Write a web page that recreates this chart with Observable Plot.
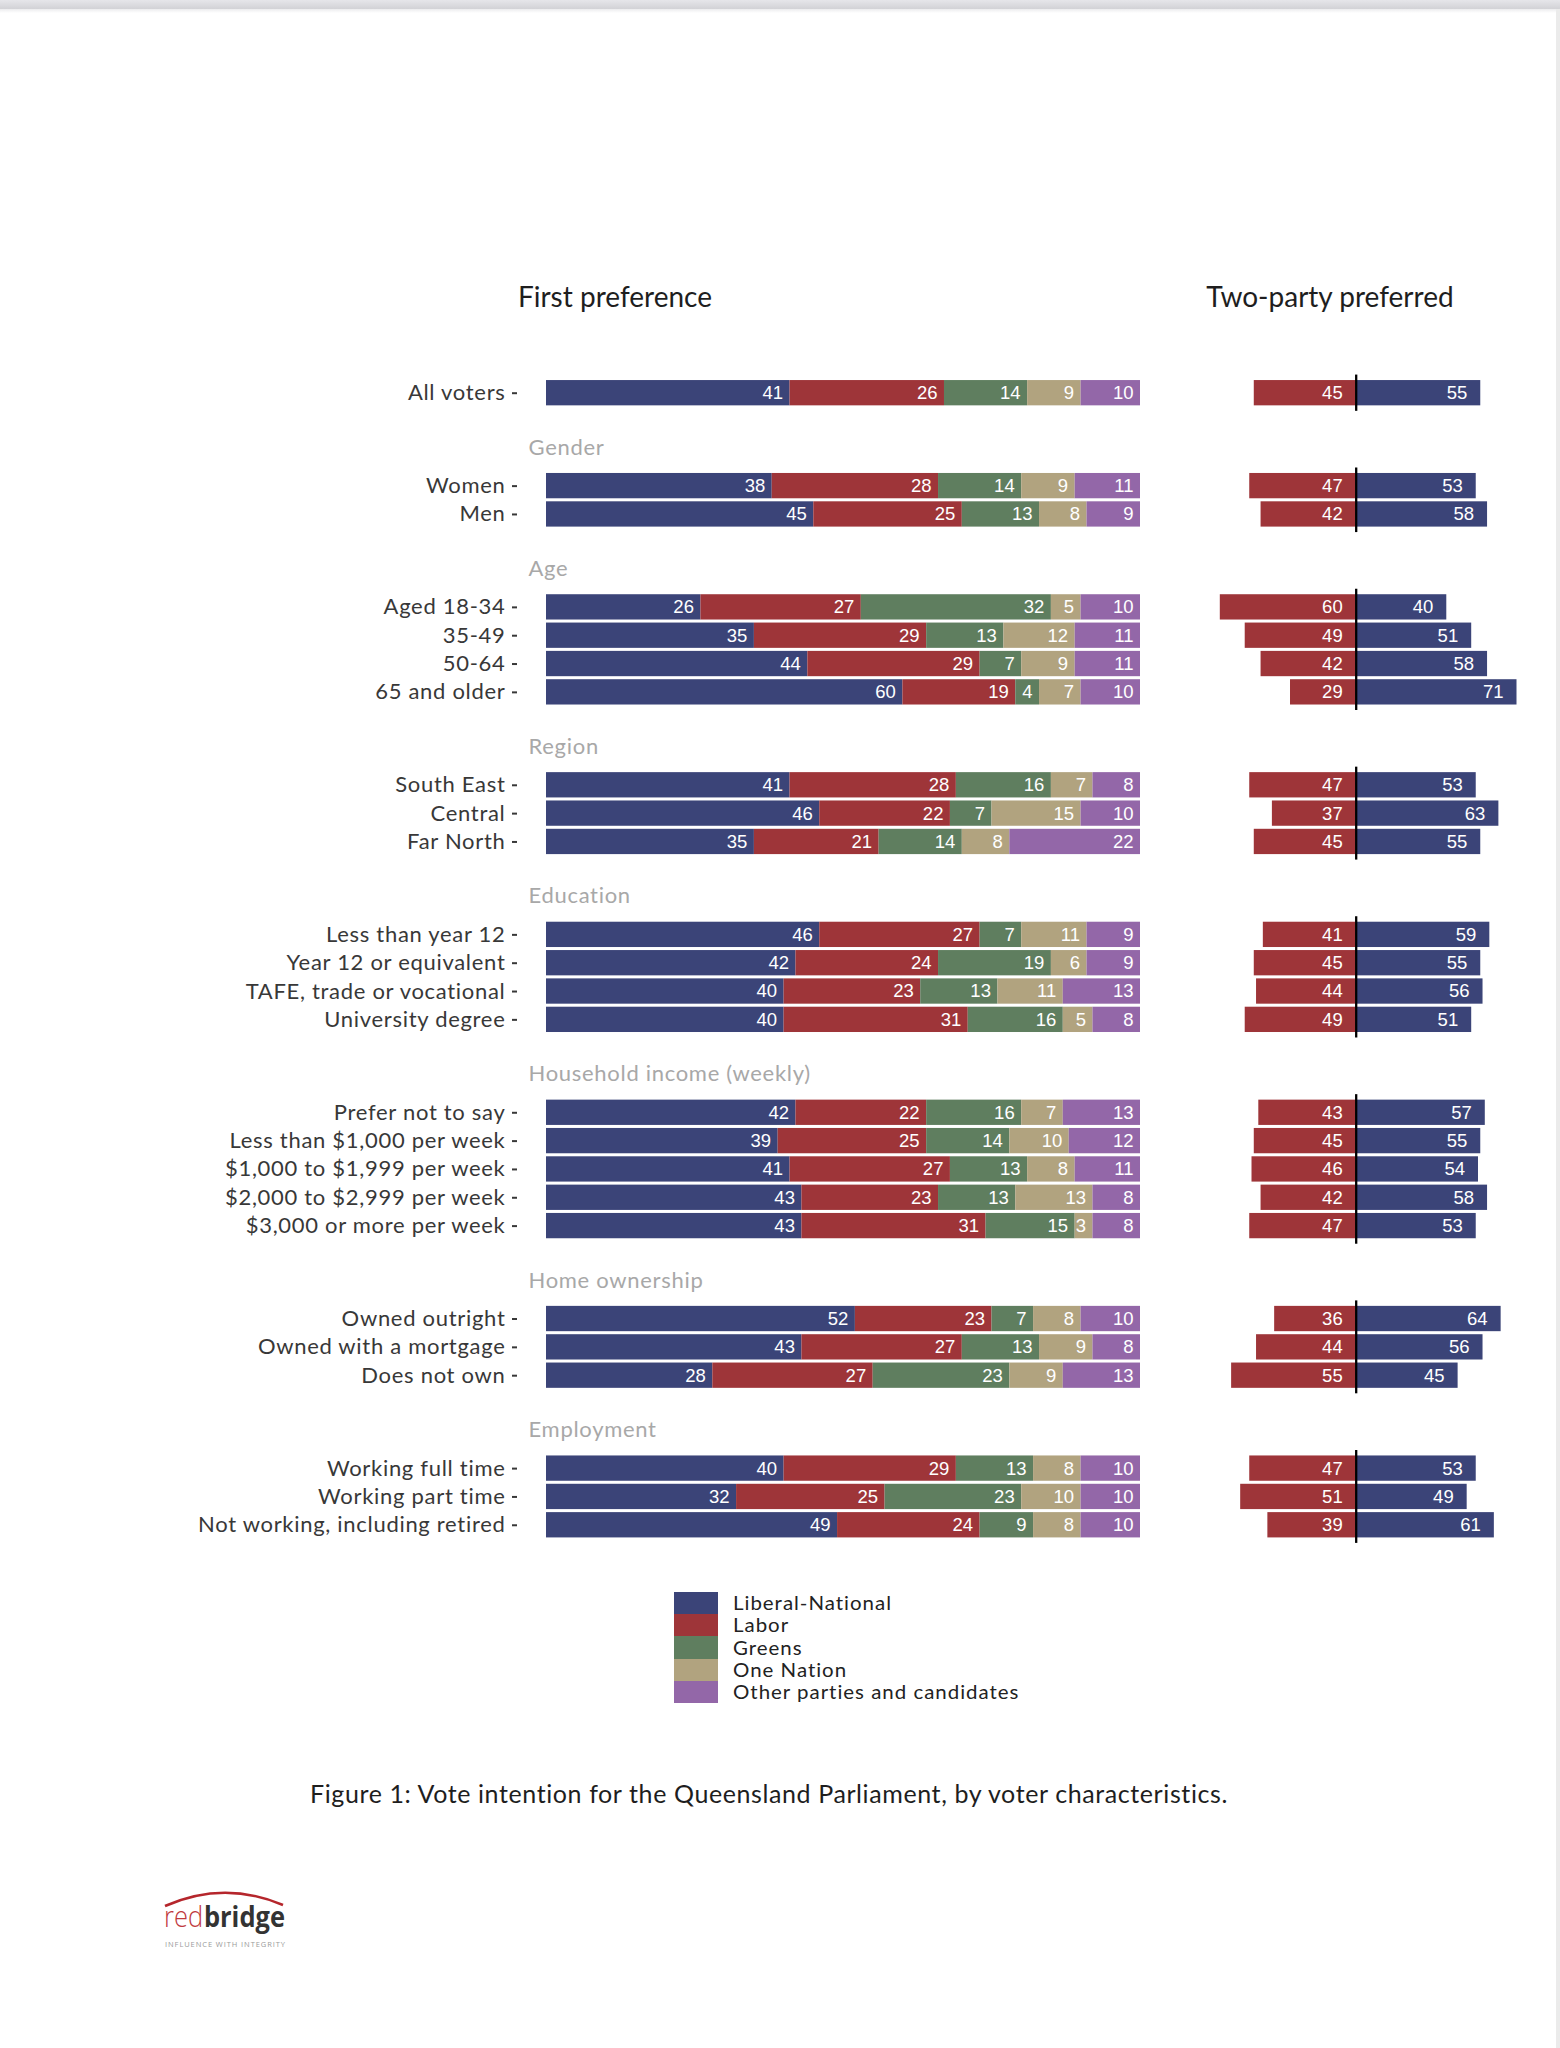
<!DOCTYPE html>
<html>
<head>
<meta charset="utf-8">
<script src="https://cdn.jsdelivr.net/npm/d3@7"></script>
<script src="https://cdn.jsdelivr.net/npm/@observablehq/plot@0.6"></script>
<style>
  html, body { margin: 0; padding: 0; background: #fff; }
  #page { position: relative; width: 1560px; height: 2048px; background: #fff; overflow: hidden; font-family: Lato, "Open Sans", sans-serif; }
  .abs { position: absolute; }
  .title { font-size: 28px; line-height: 28px; color: #1e1e1e; white-space: nowrap; transform: translateX(-50%); }
  .legrow { position: absolute; display: flex; align-items: center; height: 22.33px; }
  .sw { width: 44px; height: 22.33px; }
  .legtxt { margin-left: 15px; font-size: 18.6px; line-height: 18px; height: 18px; letter-spacing: 0.9px; color: #222; white-space: nowrap; transform: scaleX(1.1); transform-origin: left center; }
  #fp g[aria-label="y-axis tick label"] text { letter-spacing: 0.7px; }
</style>
</head>
<body>
<div id="page">
  <div class="abs" style="left:0;top:0;width:1560px;height:9px;background:linear-gradient(#e6e6ea,#d2d2d6);"></div>
  <div class="abs" style="left:0;top:9px;width:1560px;height:4px;background:linear-gradient(#ececee,#ffffff);"></div>
  <div class="abs" style="left:1556px;top:9px;width:4px;height:2039px;background:#ebebeb;"></div>
  <div id="t1" class="abs title" style="left:615px;top:282px;">First preference</div>
  <div id="t2" class="abs title" style="left:1330px;top:282px;">Two-party preferred</div>
  <div id="fp" class="abs" style="left:0;top:0;"></div>
  <div id="tpp" class="abs" style="left:1180px;top:0;"></div>
  <div id="legend"></div>
  <div id="caption" class="abs" style="left:769px;top:1781px;transform:translateX(-50%);font-size:25px;line-height:25px;letter-spacing:0.6px;color:#1e1e1e;white-space:nowrap;">Figure 1: Vote intention for the Queensland Parliament, by voter characteristics.</div>
  <svg class="abs" style="left:0;top:0;" width="1560" height="2048">
    <path d="M165,1906 Q224,1880 283,1905" fill="none" stroke="#b5262c" stroke-width="2.6"/>
    <g id="logo" transform="translate(164,1926.5)">
      <text id="logoRed" x="0" y="0" font-family="'Open Sans', sans-serif" font-size="29" font-weight="300" fill="#c0393d">red</text>
      <text id="logoBridge" x="0" y="0" font-family="'Open Sans', sans-serif" font-size="29" font-weight="700" fill="#333">bridge</text>
    </g>
    <text x="165" y="1947" font-family="'Open Sans', sans-serif" font-size="7.5" fill="#9a9a9a" textLength="120" lengthAdjust="spacing">INFLUENCE WITH INTEGRITY</text>
  </svg>
</div>
<script>
// ---------------- data ----------------
const parties = ["Liberal-National", "Labor", "Greens", "One Nation", "Other parties and candidates"];
const partyColors = ["#3b4478", "#9e3539", "#5f7e5f", "#b1a37f", "#9367a8"];
const groupNames = [null, "Gender", "Age", "Region", "Education", "Household income (weekly)", "Home ownership", "Employment"];
const categories = ["All voters", "Women", "Men", "Aged 18-34", "35-49", "50-64", "65 and older",
  "South East", "Central", "Far North",
  "Less than year 12", "Year 12 or equivalent", "TAFE, trade or vocational", "University degree",
  "Prefer not to say", "Less than $1,000 per week", "$1,000 to $1,999 per week", "$2,000 to $2,999 per week", "$3,000 or more per week",
  "Owned outright", "Owned with a mortgage", "Does not own",
  "Working full time", "Working part time", "Not working, including retired"];
const categoryGroup = [0, 1, 1, 2, 2, 2, 2, 3, 3, 3, 4, 4, 4, 4, 5, 5, 5, 5, 5, 6, 6, 6, 7, 7, 7];
const lnp       = [41, 38, 45, 26, 35, 44, 60, 41, 46, 35, 46, 42, 40, 40, 42, 39, 41, 43, 43, 52, 43, 28, 40, 32, 49];
const labor     = [26, 28, 25, 27, 29, 29, 19, 28, 22, 21, 27, 24, 23, 31, 22, 25, 27, 23, 31, 23, 27, 27, 29, 25, 24];
const greens    = [14, 14, 13, 32, 13,  7,  4, 16,  7, 14,  7, 19, 13, 16, 16, 14, 13, 13, 15,  7, 13, 23, 13, 23,  9];
const oneNation = [ 9,  9,  8,  5, 12,  9,  7,  7, 15,  8, 11,  6, 11,  5,  7, 10,  8, 13,  3,  8,  9,  9,  8, 10,  8];
const other     = [10, 11,  9, 10, 11, 11, 10,  8, 10, 22,  9,  9, 13,  8, 13, 12, 11,  8,  8, 10,  8, 13, 10, 10, 10];
const tppLabor  = [45, 47, 42, 60, 49, 42, 29, 47, 37, 45, 41, 45, 44, 49, 43, 45, 46, 42, 47, 36, 44, 55, 47, 51, 39];
const tppLnp    = [55, 53, 58, 40, 51, 58, 71, 53, 63, 55, 59, 55, 56, 51, 57, 55, 54, 58, 53, 64, 56, 45, 53, 49, 61];

// ---------------- layout helpers ----------------
const STEP = 28.33, TOP = 392.7, GAP = 3.28, HALF = 0.4465;
const rows = [];
let p = 0;
categories.forEach((c, i) => {
  if (i > 0) p += categoryGroup[i] !== categoryGroup[i - 1] ? GAP : 1;
  rows.push({label: c, group: categoryGroup[i], pos: p, i});
});
const last = p;
const labelByPos = new Map(rows.map(r => [r.pos, r.label]));
const groupExtents = d3.groups(rows, r => r.group).map(([g, rs]) => ({
  group: g, name: groupNames[g], first: rs[0].pos, last: rs[rs.length - 1].pos
}));
const headers = groupExtents.filter(g => g.name).map(g => ({name: g.name, pos: g.first - 1.36}));

const series = [lnp, labor, greens, oneNation, other];
const segments = [];
rows.forEach(r => {
  let acc = 0;
  series.forEach((s, k) => {
    const v = s[r.i];
    segments.push({pos: r.pos, party: parties[k], value: v, x1: acc, x2: acc + v});
    acc += v;
  });
});
const tppSegs = [];
rows.forEach(r => {
  tppSegs.push({pos: r.pos, party: "Labor", value: tppLabor[r.i], x1: -tppLabor[r.i], x2: 0, lx: 0});
  tppSegs.push({pos: r.pos, party: "Liberal-National", value: tppLnp[r.i], x1: 0, x2: tppLnp[r.i], lx: tppLnp[r.i]});
});

const yScale = {type: "linear", domain: [0, last], range: [TOP, TOP + last * STEP], axis: null};
const colorScale = {domain: parties, range: partyColors};
const numFont = "'Liberation Sans', Arial, sans-serif";

// ---------------- first preference ----------------
const fp = Plot.plot({
  width: 1160, height: 1560,
  marginLeft: 546, marginRight: 20, marginTop: 0, marginBottom: 0,
  style: {fontFamily: "Lato, sans-serif", fontSize: "22px", background: "transparent", overflow: "visible"},
  x: {domain: [0, 100], axis: null},
  y: yScale,
  color: colorScale,
  marks: [
    Plot.rect(segments, {x1: "x1", x2: "x2", y1: d => d.pos - HALF, y2: d => d.pos + HALF, fill: "party"}),
    Plot.text(segments, {x: "x2", y: "pos", text: d => String(d.value), textAnchor: "end", dx: -7, fill: "white", fontSize: 18.5, fontFamily: numFont}),
    Plot.axisY(rows.map(r => r.pos), {anchor: "left", label: null, tickFormat: d => labelByPos.get(d), tickSize: 5, tickPadding: 7, dx: -29, strokeWidth: 2, color: "#383838", fontSize: 22}),
    Plot.text(headers, {x: 0, y: "pos", text: "name", textAnchor: "start", dx: -18, fill: "#a8a8a8", fontSize: 22})
  ]
});
// widen header text slightly to match the reference face
d3.select(fp).selectAll('g[aria-label="text"]').filter((d, i) => i === 1).style("letter-spacing", "0.7px");
document.getElementById("fp").appendChild(fp);

// ---------------- two-party preferred ----------------
const tpp = Plot.plot({
  width: 380, height: 1560,
  marginLeft: 0, marginRight: 0, marginTop: 0, marginBottom: 0,
  style: {fontFamily: "Lato, sans-serif", fontSize: "21px", background: "transparent", overflow: "visible"},
  x: {domain: [-60, 71], range: [39.8, 336.5], axis: null},
  y: yScale,
  color: colorScale,
  marks: [
    Plot.rect(tppSegs, {x1: "x1", x2: "x2", y1: d => d.pos - HALF, y2: d => d.pos + HALF, fill: "party"}),
    Plot.ruleX(groupExtents, {x: 0, y1: d => d.first - 0.64, y2: d => d.last + 0.64, stroke: "black", strokeWidth: 2.3}),
    Plot.text(tppSegs, {x: "lx", y: "pos", text: d => String(d.value), textAnchor: "end", dx: -13.5, fill: "white", fontSize: 18.5, fontFamily: numFont})
  ]
});
document.getElementById("tpp").appendChild(tpp);

// ---------------- legend ----------------
const legend = document.getElementById("legend");
parties.forEach((name, k) => {
  const row = document.createElement("div");
  row.className = "legrow";
  row.style.left = "673.5px";
  row.style.top = (1591.7 + k * 22.33) + "px";
  row.innerHTML = `<div class="sw" style="background:${partyColors[k]}"></div><div class="legtxt">${name}</div>`;
  legend.appendChild(row);
});

// ---------------- logo word: lay out naturally, then scale to its width ----------------
const redEl = document.getElementById("logoRed");
const bridgeEl = document.getElementById("logoBridge");
const wRed = redEl.getComputedTextLength();
const wBridge = bridgeEl.getComputedTextLength();
bridgeEl.setAttribute("x", wRed + 1);
const sx = 121 / (wRed + 1 + wBridge);
document.getElementById("logo").setAttribute("transform", `translate(164,1926.5) scale(${sx},1)`);
</script>
</body>
</html>
